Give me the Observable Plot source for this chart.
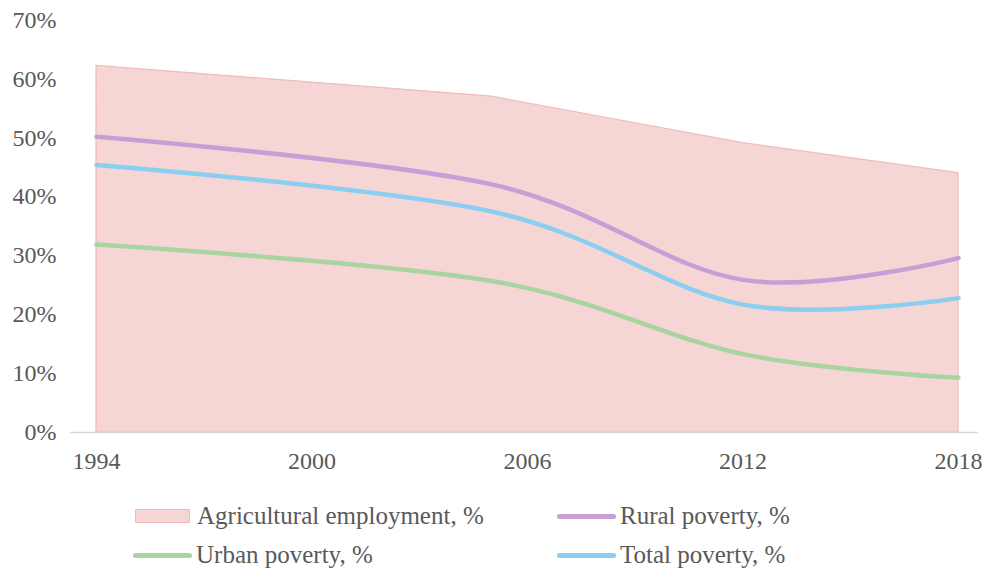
<!DOCTYPE html>
<html>
<head>
<meta charset="utf-8">
<script src="https://cdn.jsdelivr.net/npm/d3@7"></script>
<script src="https://cdn.jsdelivr.net/npm/@observablehq/plot@0.6"></script>
<style>
  body { margin: 0; background: #fff; }
  #chart { width: 984px; }
  .legend { position: relative; width: 984px; height: 86px; font-family: "Liberation Serif", "Times New Roman", serif; font-size: 25px; color: #595959; }
  .item { position: absolute; display: flex; align-items: center; height: 28px; line-height: 28px; white-space: nowrap; }
  .sw-area { width: 55px; height: 14px; margin-right: 7px; box-sizing: border-box; }
  .sw-line { width: 59px; height: 5px; border-radius: 3px; margin-right: 4px; }
</style>
</head>
<body>
<div id="chart"></div>
<script>
// Survey years
const years = [1994, 2005, 2012, 2018];
// Share of employment in agriculture, %
const agricultural = [62.2, 57.0, 49.1, 44.0];
// Poverty headcount rates, %
const rural = [50.2, 42.1, 25.9, 29.6];
const urban = [31.9, 25.7, 13.3, 9.3];
const total = [45.4, 37.5, 21.7, 22.8];
// Axis ticks
const xTicks = [1994, 2000, 2006, 2012, 2018];
const yTicks = [0, 10, 20, 30, 40, 50, 60, 70];

const series = [
  {name: "Agricultural employment, %", type: "area", fill: "#f6d5d5", stroke: "#f2baba"},
  {name: "Rural poverty, %", type: "line", values: rural, color: "#c6a0d5"},
  {name: "Urban poverty, %", type: "line", values: urban, color: "#a8d4a0"},
  {name: "Total poverty, %", type: "line", values: total, color: "#8acff0"}
];

const agriRows = years.map((year, i) => ({year, value: agricultural[i]}));
const lineRows = (values) => years.map((year, i) => ({year, value: values[i]}));

const chart = Plot.plot({
  width: 984,
  height: 490,
  marginLeft: 70,
  marginRight: 6,
  marginTop: 19.5,
  marginBottom: 58,
  style: {fontFamily: "'Liberation Serif', 'Times New Roman', serif", fontSize: "24px", color: "#595959", background: "#fff"},
  x: {domain: [1994, 2018], insetLeft: 26, insetRight: 20, ticks: xTicks, tickFormat: d => String(d), tickSize: 0, tickPadding: 19, label: null},
  y: {domain: [0, 70], ticks: yTicks, tickFormat: d => d + "%", tickSize: 0, tickPadding: 14, label: null},
  marks: [
    Plot.areaY(agriRows, {x: "year", y: "value", fill: series[0].fill, stroke: series[0].stroke, strokeWidth: 1.2}),
    Plot.ruleY([0], {stroke: "#d9d9d9", strokeWidth: 1.5}),
    ...series.slice(1).map(s =>
      Plot.line(lineRows(s.values), {x: "year", y: "value", stroke: s.color, strokeWidth: 4.5, strokeLinecap: "round", curve: "cardinal"})
    )
  ]
});
document.getElementById("chart").appendChild(chart);

// Legend below the plot: two rows, two columns
const legend = d3.select("#chart").append("div").attr("class", "legend");
const positions = [[135, 12], [557, 12], [133, 51], [557, 51]];
series.forEach((s, i) => {
  const item = legend.append("div").attr("class", "item")
    .style("left", positions[i][0] + "px").style("top", positions[i][1] + "px");
  if (s.type === "area") {
    item.append("span").attr("class", "sw-area")
      .style("background", s.fill).style("border", `1.5px solid ${s.stroke}`);
  } else {
    item.append("span").attr("class", "sw-line").style("background", s.color);
  }
  item.append("span").text(s.name);
});
</script>
</body>
</html>
